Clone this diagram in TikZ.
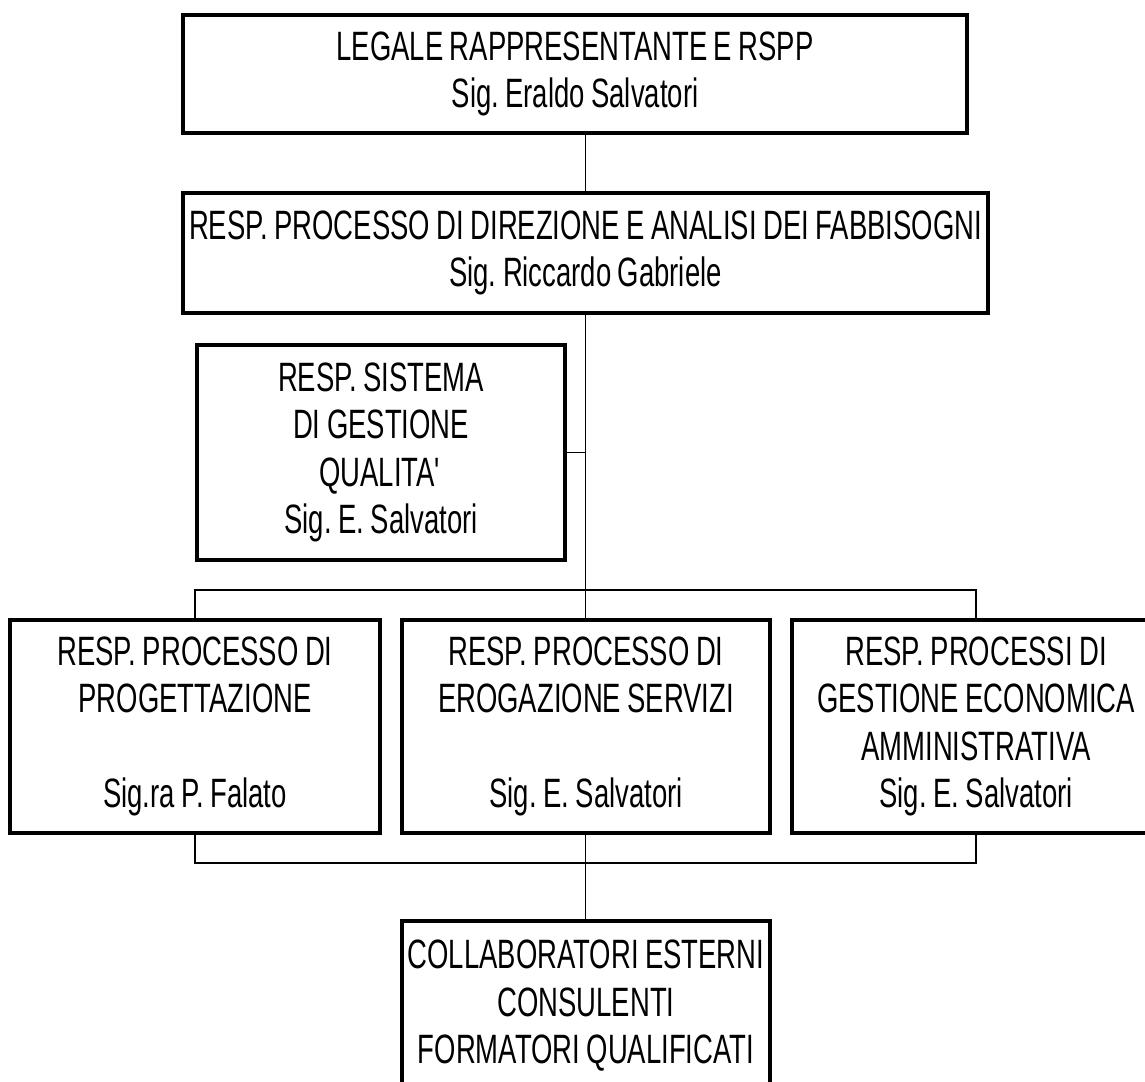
\documentclass[tikz,border=0pt]{standalone}
\usepackage{fontspec}
\setmainfont{Liberation Sans}[FakeStretch=0.67, WordSpace=0.85]
\frenchspacing
\begin{document}
\begin{tikzpicture}[x=1pt, y=-1pt,
    box/.style={draw, line width=3.5pt, align=center, inner sep=0pt, font=\fontsize{41}{47.5}\selectfont},
    link/.style={line width=1.6pt}]
    \useasboundingbox (0,0) rectangle (1145,1081);
    \clip (0,0) rectangle (1145,1081);
    \coordinate (bus1) at (0,590); \coordinate (bus2) at (0,863);

    \node[box, minimum width=784pt, minimum height=118pt] (leg) at (575,74) {LEGALE RAPPRESENTANTE E RSPP\\Sig. Eraldo Salvatori};
    \node[box, minimum width=805pt, minimum height=120pt] (dir) at (585.5,253) {RESP. PROCESSO DI DIREZIONE E ANALISI DEI FABBISOGNI\\Sig. Riccardo Gabriele};
    \node[box, minimum width=368pt, minimum height=215pt] (sgq) at (381,452.5) {RESP. SISTEMA\\DI GESTIONE\\QUALITA\textquotesingle\\Sig. E. Salvatori};

    \node[box, minimum width=370pt, minimum height=213pt] (prog) at (195,726.5) {RESP. PROCESSO DI\\PROGETTAZIONE\\[47.5pt]Sig.ra P. Falato};
    \node[box, minimum width=368pt, minimum height=213pt] (erog) at (586,726.5) {RESP. PROCESSO DI\\EROGAZIONE SERVIZI\\[47.5pt]Sig. E. Salvatori};
    \node[box, minimum width=368pt, minimum height=213pt] (econ) at (976,726.5) {RESP. PROCESSI DI\\GESTIONE ECONOMICA\\AMMINISTRATIVA\\Sig. E. Salvatori};
    \node[box, minimum width=368pt, minimum height=170pt] (coll) at (586,1006) {COLLABORATORI ESTERNI\\CONSULENTI\\FORMATORI QUALIFICATI};

    \draw[link] (dir.north |- leg.south) -- (dir.north);
    \draw[link] (dir.south) -- (dir.south |- erog.north);
    \draw[link] (sgq.east) -- (sgq.east -| dir.south);
    \draw[link] (prog.north) -- (prog.north |- bus1) -- (econ.north |- bus1) -- (econ.north);
    \draw[link] (prog.south) -- (prog.south |- bus2) -- (econ.south |- bus2) -- (econ.south);
    \draw[link] (dir.south |- erog.south) -- (dir.south |- coll.north);
\end{tikzpicture}
\end{document}
